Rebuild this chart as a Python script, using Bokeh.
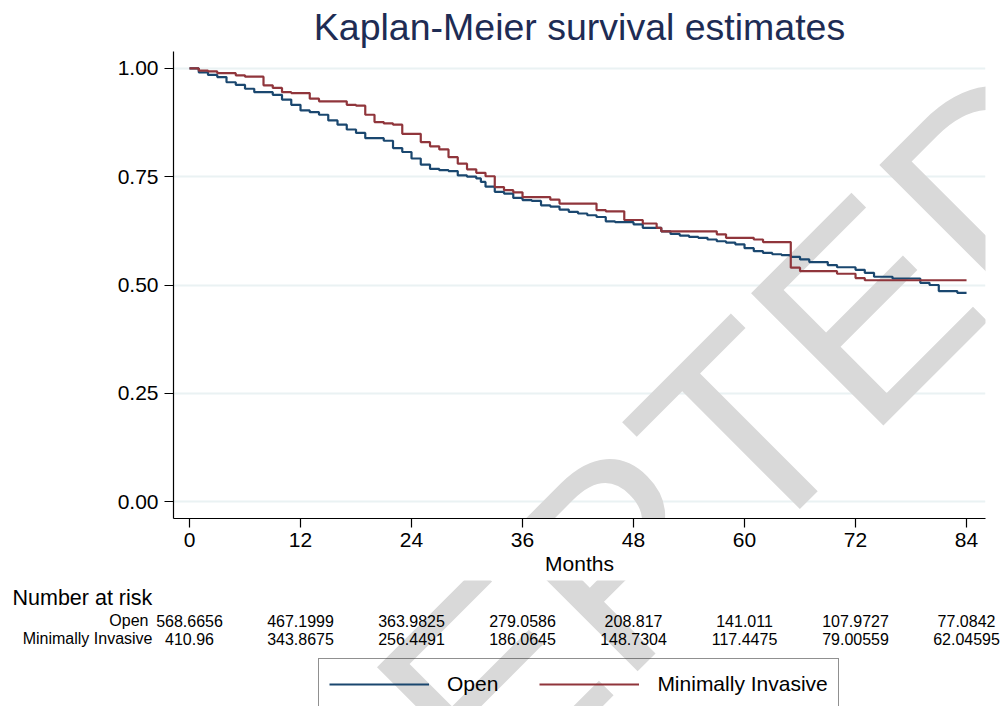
from bokeh.plotting import figure
from bokeh.layouts import column
from bokeh.models import Label, Legend, LegendItem, FixedTicker, Range1d, Title
from bokeh.core.properties import value
from bokeh.embed import file_html
from bokeh.resources import INLINE

FONT = "Liberation Sans"

# ---- data ----
open_t = [0, 1, 2, 3, 4, 5, 6, 7, 9, 10, 11, 12, 13, 14, 15, 16, 17, 18, 19, 21,
          22, 23, 24, 25, 26, 27, 28, 29, 30, 31, 31.5, 32, 33, 34, 35, 36, 37,
          38, 39, 40, 41, 42, 43, 44, 45, 46, 48, 49, 51, 52, 53, 54, 55, 56,
          57, 58, 59, 60, 61, 62, 63, 64, 65, 66, 67, 69, 70, 72, 73, 74, 76,
          79, 80, 81, 83, 84]
open_s = [1.000, 0.991, 0.985, 0.980, 0.968, 0.962, 0.953, 0.945, 0.939, 0.928,
          0.916, 0.903, 0.899, 0.893, 0.880, 0.870, 0.859, 0.851, 0.839, 0.833,
          0.816, 0.807, 0.792, 0.778, 0.768, 0.765, 0.763, 0.753, 0.750, 0.746,
          0.738, 0.727, 0.715, 0.711, 0.701, 0.696, 0.694, 0.684, 0.681, 0.674,
          0.669, 0.665, 0.661, 0.657, 0.647, 0.645, 0.640, 0.632, 0.624, 0.618,
          0.614, 0.611, 0.609, 0.605, 0.601, 0.598, 0.594, 0.585, 0.578, 0.574,
          0.571, 0.569, 0.565, 0.559, 0.553, 0.546, 0.541, 0.535, 0.528, 0.519,
          0.515, 0.505, 0.500, 0.486, 0.482, 0.482]

mi_t = [0, 1, 2, 3, 5, 6, 8, 9, 10, 11, 13, 14, 17, 18, 19, 20, 21, 22, 23, 25,
        26, 27, 28, 29, 30, 31, 32, 33, 34, 35, 36, 39, 40, 44, 45, 47, 49, 50.5,
        51, 57, 58, 61, 62, 65, 66, 70, 72, 73, 84]
mi_s = [1.000, 0.995, 0.993, 0.989, 0.984, 0.981, 0.961, 0.955, 0.945, 0.943,
        0.930, 0.924, 0.916, 0.914, 0.893, 0.876, 0.873, 0.870, 0.849, 0.830,
        0.820, 0.813, 0.795, 0.780, 0.767, 0.759, 0.751, 0.726, 0.719, 0.714,
        0.703, 0.697, 0.688, 0.673, 0.670, 0.650, 0.642, 0.632, 0.624, 0.617,
        0.609, 0.605, 0.599, 0.540, 0.532, 0.526, 0.516, 0.511, 0.511]

risk_months = [0, 12, 24, 36, 48, 60, 72, 84]
risk_open = [568.6656, 467.1999, 363.9825, 279.0586, 208.817, 141.011, 107.9727, 77.0842]
risk_mi = [410.96, 343.8675, 256.4491, 186.0645, 148.7304, 117.4475, 79.00559, 62.04595]

x_ticks = [0, 12, 24, 36, 48, 60, 72, 84]
y_ticks = [0, 0.25, 0.5, 0.75, 1.0]
y_tick_labels = ["0.00", "0.25", "0.50", "0.75", "1.00"]

group_names = ["Open", "Minimally Invasive"]
group_colors = ["#1a476f", "#90353b"]

title_text = "Kaplan-Meier survival estimates"
risk_title = "Number at risk"
watermark = "ACCEPTED"

# ---- layout constants (pixels) ----
W = 1004
A_H, B_H = 580, 126
A_LEFT, A_RIGHT, A_TOP, A_BOTTOM = 173, 19, 50, 62
X0, X1 = -1.73, 86.05
Y0, Y1 = -0.039, 1.039
PXPM = (W - A_LEFT - A_RIGHT) / (X1 - X0)


def px_to_x(px):
    return X0 + (px - A_LEFT) / PXPM


WM_X, WM_Y = 20.5, 1154.5   # page position of the watermark text anchor
WM_SIZE = "272px"
WM_COLOR = "#d9d9d9"

# ---- main figure ----
p = figure(width=W, height=A_H, output_backend="svg", toolbar_location=None,
           x_range=Range1d(X0, X1), y_range=Range1d(Y0, Y1),
           min_border_left=A_LEFT, min_border_right=A_RIGHT,
           min_border_top=A_TOP, min_border_bottom=A_BOTTOM)
p.frame_align = False
p.title = Title(text=title_text, align="center", text_font=FONT,
                text_font_size="37.5px", text_font_style="normal",
                text_color="#1e2c54", standoff=7)
p.outline_line_color = None
p.background_fill_color = "white"
p.border_fill_color = "white"

p.add_layout(Label(x=WM_X - A_LEFT, y=A_H - A_BOTTOM - WM_Y,
                   x_units="screen", y_units="screen",
                   text=watermark, angle=45, angle_units="deg",
                   text_align="left", text_baseline="alphabetic",
                   text_font=FONT, text_font_size=WM_SIZE,
                   text_color=WM_COLOR, level="underlay"))

p.xgrid.visible = False
p.ygrid.grid_line_color = "#eaf2f3"
p.ygrid.grid_line_width = 2

for ax in (p.xaxis[0], p.yaxis[0]):
    ax.axis_line_color = "black"
    ax.axis_line_width = 1.2
    ax.major_tick_line_color = "black"
    ax.major_tick_line_width = 1.2
    ax.major_tick_out = 9
    ax.major_tick_in = 0
    ax.minor_tick_line_color = None
    ax.major_label_text_font = FONT
    ax.major_label_text_font_size = "21px"
    ax.major_label_text_color = "black"
    ax.major_label_standoff = 6

p.xaxis.major_label_standoff = 5
p.xaxis.ticker = FixedTicker(ticks=x_ticks)
p.yaxis.ticker = FixedTicker(ticks=y_ticks)
p.yaxis.major_label_overrides = {t: l for t, l in zip(y_ticks, y_tick_labels)}
p.xaxis.axis_label = "Months"
p.xaxis.axis_label_text_font = FONT
p.xaxis.axis_label_text_font_size = "21px"
p.xaxis.axis_label_text_font_style = "normal"
p.xaxis.axis_label_text_color = "black"
p.xaxis.axis_label_standoff = 2

p.step(open_t, open_s, mode="after", line_color=group_colors[0], line_width=2.2)
p.step(mi_t, mi_s, mode="after", line_color=group_colors[1], line_width=2.2)

# ---- lower figure: number-at-risk table and legend ----
q = figure(width=W, height=B_H, output_backend="svg", toolbar_location=None,
           x_range=Range1d(px_to_x(0), px_to_x(W)), y_range=Range1d(B_H, 0),
           x_axis_location=None, y_axis_location=None,
           min_border_left=0, min_border_right=0, min_border_top=0,
           min_border_bottom=0)
q.frame_align = False
q.outline_line_color = None
q.xgrid.visible = False
q.ygrid.visible = False
q.background_fill_color = "white"
q.border_fill_color = "white"

q.add_layout(Label(x=WM_X, y=A_H + B_H - WM_Y, x_units="screen", y_units="screen",
                   text=watermark, angle=45, angle_units="deg",
                   text_align="left", text_baseline="alphabetic",
                   text_font=FONT, text_font_size=WM_SIZE,
                   text_color=WM_COLOR, level="underlay"))

ROW_T, ROW_O, ROW_M = 597 - A_H, 620 - A_H, 638 - A_H
q.text(x=[px_to_x(12)], y=[ROW_T], text=[risk_title], text_align="left",
       text_baseline="middle", text_font=value(FONT), text_font_size="21.5px",
       text_color="black")
q.text(x=[px_to_x(148), px_to_x(152)], y=[ROW_O, ROW_M], text=group_names,
       text_align="right", text_baseline="middle", text_font=value(FONT),
       text_font_size="16px", text_color="black")
q.text(x=risk_months, y=[ROW_O] * len(risk_months), text=[str(v) for v in risk_open],
       text_align="center", text_baseline="middle", text_font=value(FONT),
       text_font_size="16px", text_color="black")
q.text(x=risk_months, y=[ROW_M] * len(risk_months), text=[str(v) for v in risk_mi],
       text_align="center", text_baseline="middle", text_font=value(FONT),
       text_font_size="16px", text_color="black")

# hidden copies of the curves: they only provide the legend keys
k_open = q.step(open_t, open_s, mode="after", line_color=group_colors[0],
                line_width=2, visible=False)
k_mi = q.step(mi_t, mi_s, mode="after", line_color=group_colors[1],
              line_width=2, visible=False)
legend = Legend(items=[LegendItem(label=group_names[0], renderers=[k_open]),
                       LegendItem(label=group_names[1], renderers=[k_mi])],
                orientation="horizontal", location=(318, -4),
                glyph_width=100, glyph_height=30, label_height=30,
                label_standoff=18, spacing=41, padding=10, margin=0,
                label_text_font=FONT, label_text_font_size="21px",
                label_text_color="black",
                border_line_color="#222222", border_line_width=1.2,
                background_fill_alpha=0, inactive_fill_alpha=0)
q.add_layout(legend)

layout = column(p, q, spacing=0)
open("out.html", "w").write(file_html(layout, INLINE))
